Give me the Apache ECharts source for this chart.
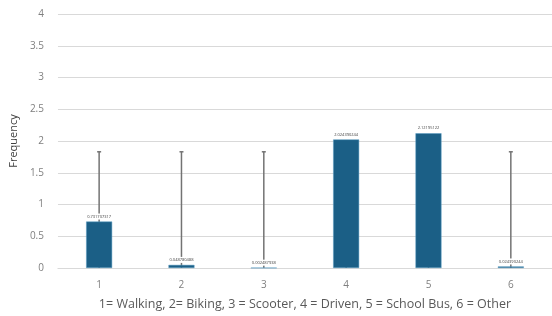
<!DOCTYPE html>
<html>
<head>
<meta charset="utf-8">
<script src="https://cdn.jsdelivr.net/npm/echarts@6/dist/echarts.min.js"></script>
<style>
  html, body { margin: 0; padding: 0; background: #fff; }
  #chart { width: 552px; height: 316px; }
</style>
</head>
<body>
<div id="chart"></div>
<script>
// modes of travel, mean frequency per mode
const categories = ['1', '2', '3', '4', '5', '6']
const values = [0.731707317, 0.048780488, 0.002487938, 2.024390244, 2.12195122, 0.024390244]
// error bar ends (lower end clipped at 0)
const errLow = [0, 0, 0, 0, 0, 0]
const errHigh = [1.83, 1.83, 1.83, 1.83, 1.83, 1.83]
const yTicks = [0, 0.5, 1, 1.5, 2, 2.5, 3, 3.5, 4]

const chart = echarts.init(document.getElementById('chart'))

const errData = categories.map(function (c, i) { return [i, errLow[i], errHigh[i]] })

chart.setOption({
  animation: false,
  textStyle: { fontFamily: '"Open Sans", Lato, sans-serif' },
  grid: { left: 51, right: 0, top: 14, bottom: 43 },
  xAxis: {
    type: 'category',
    data: categories,
    name: '1= Walking, 2= Biking, 3 = Scooter, 4 = Driven, 5 = School Bus, 6 = Other',
    nameLocation: 'middle',
    nameGap: 30,
    nameTextStyle: { color: '#595959', fontSize: 12.5 },
    axisLine: { show: true, lineStyle: { color: '#d9d9d9' } },
    axisTick: { show: false },
    axisLabel: { color: '#7f7f7f', fontSize: 10, margin: 12 }
  },
  yAxis: {
    type: 'value',
    min: yTicks[0],
    max: yTicks[yTicks.length - 1],
    interval: 0.5,
    name: 'Frequency',
    nameLocation: 'middle',
    nameGap: 35,
    nameTextStyle: { color: '#404040', fontSize: 11 },
    axisLine: { show: false },
    axisTick: { show: false },
    axisLabel: { color: '#7f7f7f', fontSize: 10, margin: 14 },
    splitLine: { lineStyle: { color: '#d9d9d9', width: 1 } }
  },
  series: [
    {
      type: 'custom',
      z: 1,
      data: errData,
      renderItem: function (params, api) {
        const x = api.value(0)
        const lo = api.coord([x, api.value(1)])
        const hi = api.coord([x, api.value(2)])
        return {
          type: 'group',
          children: [
            { type: 'line', shape: { x1: lo[0], y1: lo[1], x2: hi[0], y2: hi[1] }, style: { stroke: '#737373', lineWidth: 1.5 } },
            { type: 'line', shape: { x1: hi[0] - 2, y1: hi[1], x2: hi[0] + 2, y2: hi[1] }, style: { stroke: '#737373', lineWidth: 1.5 } }
          ]
        }
      }
    },
    {
      type: 'bar',
      z: 2,
      data: values,
      barWidth: 26,
      itemStyle: { color: '#1b5f86', borderColor: '#5a9cc2', borderWidth: 0.5 },
      label: {
        show: true,
        position: 'top',
        distance: 2,
        fontSize: 4,
        color: '#404040',
        backgroundColor: '#fff',
        padding: [1, 2],
        formatter: function (p) { return String(p.value) }
      }
    }
  ]
})
</script>
</body>
</html>
